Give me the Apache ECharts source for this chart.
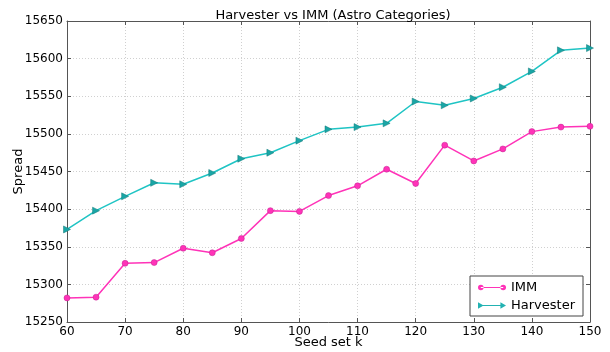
<!DOCTYPE html>
<html>
<head>
<meta charset="utf-8">
<script src="https://cdn.jsdelivr.net/npm/echarts@6/dist/echarts.min.js"></script>
<style>
  html, body { margin: 0; padding: 0; background: #fff; }
  #chart { width: 610px; height: 352px; }
</style>
</head>
<body>
<div id="chart"></div>
<script>
// Seed set sizes (k)
const seedK = [60, 65, 70, 75, 80, 85, 90, 95, 100, 105, 110, 115, 120, 125, 130, 135, 140, 145, 150];

// Spread per algorithm
const immSpread = [15282, 15283, 15328, 15329, 15348, 15342, 15361, 15398, 15397, 15418,
                   15431, 15453, 15434, 15485, 15464, 15480, 15503, 15509, 15510];
const harvesterSpread = [15373, 15398, 15417, 15435, 15433, 15448, 15467, 15475, 15491, 15506,
                         15509, 15514, 15543, 15538, 15547, 15562, 15583, 15611, 15614];

const yTicks = [15250, 15300, 15350, 15400, 15450, 15500, 15550, 15600, 15650];
const xTicks = [60, 70, 80, 90, 100, 110, 120, 130, 140, 150];

const FONT = 'DejaVu Sans';
const IMM_COLOR = '#ff33b8';
const HARV_COLOR = '#1fc4c4';

const pairs = (xs, ys) => xs.map((x, i) => [x, ys[i]]);

// Legend glyphs: line with a marker at each end
const immIcon = 'path://M3,4.4 L27,4.4 L27,5.6 L3,5.6 Z M0,5 A3,3 0 1 0 6,5 A3,3 0 1 0 0,5 Z M24,5 A3,3 0 1 0 30,5 A3,3 0 1 0 24,5 Z';
const harvIcon = 'path://M2,4.5 L28,4.5 L28,5.5 L2,5.5 Z M0,1.5 L6,5 L0,8.5 Z M24,1.5 L30,5 L24,8.5 Z';

const axisLine = { show: true, lineStyle: { color: '#555', width: 1 } };
const gridLine = { show: true, lineStyle: { color: '#d0d0d0', type: [1, 2], width: 1 } };
const tick = { show: true, inside: true, length: 4, lineStyle: { color: '#555' } };

const chart = echarts.init(document.getElementById('chart'), null, { renderer: 'canvas' });
chart.setOption({
  animation: false,
  backgroundColor: '#fff',
  title: {
    text: 'Harvester vs IMM (Astro Categories)',
    left: 328, top: 4, textAlign: 'center',
    textStyle: { fontFamily: FONT, fontSize: 13, fontWeight: 'normal', color: '#000' }
  },
  grid: { left: 67, right: 20, top: 21, bottom: 30, containLabel: false, outerBoundsMode: 'none' },
  legend: {
    orient: 'vertical',
    right: 27, bottom: 36,
    padding: [5, 8, 4, 8],
    itemGap: 5,
    itemWidth: 28, itemHeight: 9,
    borderColor: '#444', borderWidth: 1, borderRadius: 0,
    backgroundColor: '#fff',
    textStyle: { fontFamily: FONT, fontSize: 13, color: '#000' },
    data: [
      { name: 'IMM', icon: immIcon, itemStyle: { color: IMM_COLOR, borderWidth: 0 } },
      { name: 'Harvester', icon: harvIcon, itemStyle: { color: '#22b2b2', borderWidth: 0 } }
    ]
  },
  xAxis: [{
    type: 'value', min: 60, max: 150, interval: 10,
    name: 'Seed set k', nameLocation: 'middle', nameGap: 14, nameMoveOverlap: false,
    nameTextStyle: { fontFamily: FONT, fontSize: 13, color: '#000' },
    axisLine: axisLine, axisTick: tick,
    axisLabel: { fontFamily: FONT, fontSize: 12, color: '#000', margin: 4,
                 customValues: xTicks, formatter: v => String(v) },
    splitLine: gridLine
  }, {
    type: 'value', min: 60, max: 150, interval: 10, position: 'top',
    axisLine: axisLine, axisTick: tick,
    axisLabel: { show: false }, splitLine: { show: false }
  }],
  yAxis: [{
    type: 'value', min: 15250, max: 15650, interval: 50,
    name: 'Spread', nameLocation: 'middle', nameGap: 42, nameMoveOverlap: false,
    nameTextStyle: { fontFamily: FONT, fontSize: 13, color: '#000' },
    axisLine: axisLine, axisTick: tick,
    axisLabel: { fontFamily: FONT, fontSize: 12, color: '#000', margin: 4,
                 customValues: yTicks, formatter: v => String(v) },
    splitLine: gridLine
  }, {
    type: 'value', min: 15250, max: 15650, interval: 50, position: 'right',
    axisLine: axisLine, axisTick: tick,
    axisLabel: { show: false }, splitLine: { show: false }
  }],
  series: [{
    name: 'IMM', type: 'line',
    data: pairs(seedK, immSpread),
    symbol: 'circle', symbolSize: 6,
    lineStyle: { color: IMM_COLOR, width: 1.5 },
    itemStyle: { color: IMM_COLOR, borderColor: '#c02090', borderWidth: 0.5 },
    z: 3
  }, {
    name: 'Harvester', type: 'line',
    data: pairs(seedK, harvesterSpread),
    symbol: 'triangle', symbolSize: 7, symbolRotate: -90,
    lineStyle: { color: HARV_COLOR, width: 1.5 },
    itemStyle: { color: '#1aa6a6', borderColor: '#127a7a', borderWidth: 0.5 },
    z: 3
  }]
});
</script>
</body>
</html>
